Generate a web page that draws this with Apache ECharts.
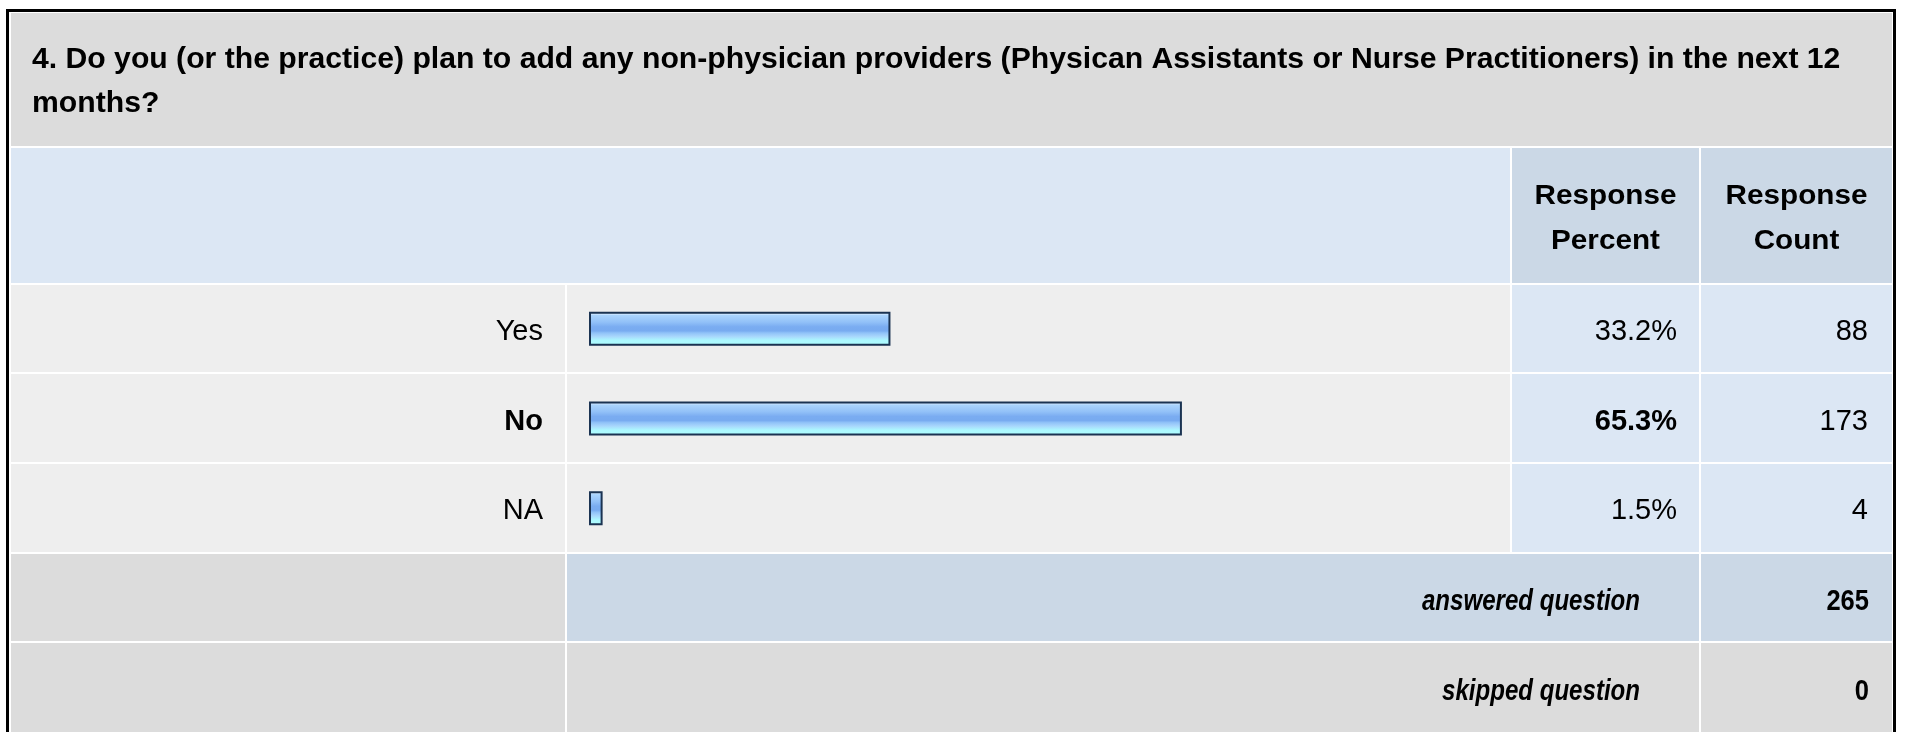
<!DOCTYPE html>
<html>
<head>
<meta charset="utf-8">
<script src="https://cdn.jsdelivr.net/npm/echarts@6/dist/echarts.min.js"></script>
<style>
html,body{margin:0;padding:0;background:#fff;}
#chart{width:1907px;height:732px;}
</style>
</head>
<body>
<div id="chart"></div>
<script>
// ---- data ----
const titleLines = ['4. Do you (or the practice) plan to add any non-physician providers (Physican Assistants or Nurse Practitioners) in the next 12', 'months?'];
const headerPercent = ['Response', 'Percent'];
const headerCount = ['Response', 'Count'];
const categories = ['Yes', 'No', 'NA'];
const percents = [33.2, 65.3, 1.5];
const counts = [88, 173, 4];
const answeredLabel = 'answered question';
const skippedLabel = 'skipped question';
const answered = 265;
const skipped = 0;

// ---- rendering ----
const FONT = '"Liberation Sans", Arial, Helvetica, sans-serif';
const maxIdx = percents.indexOf(Math.max(...percents));
const chart = echarts.init(document.getElementById('chart'), null, {renderer: 'canvas'});

// table layout
const colX = [11, 567, 1512, 1701, 1892];
const rowY = [13, 148, 285, 374, 464, 554, 643, 740];
const C = {
  title: '#dcdcdc', headLight: '#dce7f4', headDark: '#cbd8e6',
  row: '#eeeeee', val: '#dce7f4', grey: '#dcdcdc'
};
function rect(x1, y1, x2, y2, color) {
  return {type: 'rect', z: -10, silent: true,
    shape: {x: x1, y: y1, width: x2 - x1 - 2, height: y2 - y1 - 2},
    style: {fill: color}};
}
const g = [];
// frame
g.push({type: 'rect', z: -11, silent: true, shape: {x: 7.5, y: 10.5, width: 1887, height: 800},
  style: {fill: '#ffffff', stroke: '#000000', lineWidth: 3}});
// title
g.push(rect(colX[0], rowY[0], colX[4] + 2, rowY[1], C.title));
// header
g.push(rect(colX[0], rowY[1], colX[2], rowY[2], C.headLight));
g.push(rect(colX[2], rowY[1], colX[3], rowY[2], C.headDark));
g.push(rect(colX[3], rowY[1], colX[4] + 2, rowY[2], C.headDark));
// data rows
for (let r = 0; r < categories.length; r++) {
  const y1 = rowY[2 + r], y2 = rowY[3 + r];
  g.push(rect(colX[0], y1, colX[1], y2, C.row));
  g.push(rect(colX[1], y1, colX[2], y2, C.row));
  g.push(rect(colX[2], y1, colX[3], y2, C.val));
  g.push(rect(colX[3], y1, colX[4] + 2, y2, C.val));
}
// answered / skipped
g.push(rect(colX[0], rowY[5], colX[1], rowY[6], C.grey));
g.push(rect(colX[1], rowY[5], colX[3], rowY[6], C.headDark));
g.push(rect(colX[3], rowY[5], colX[4] + 2, rowY[6], C.headDark));
g.push(rect(colX[0], rowY[6], colX[1], rowY[7], C.grey));
g.push(rect(colX[1], rowY[6], colX[3], rowY[7], C.grey));
g.push(rect(colX[3], rowY[6], colX[4] + 2, rowY[7], C.grey));

// texts
g.push({type: 'text', x: 32, y: 38, scaleX: 1.04, z: 10, silent: true,
  style: {text: titleLines.join('\n'), font: 'bold 29px ' + FONT, fill: '#000',
    lineHeight: 44, textAlign: 'left', textVerticalAlign: 'top'}});
[[headerPercent, (colX[2] + colX[3] - 2) / 2], [headerCount, (colX[3] + colX[4]) / 2]].forEach(([lines, cx]) => {
  g.push({type: 'text', x: cx, y: 174, scaleX: 1.06, z: 10, silent: true,
    style: {text: lines.join('\n'), font: 'bold 28px ' + FONT, fill: '#000',
      lineHeight: 45, textAlign: 'center', textVerticalAlign: 'top'}});
});
const midA = (rowY[5] + rowY[6] - 2) / 2 + 4, midS = (rowY[6] + 732) / 2 + 4;
g.push({type: 'text', x: 1640, y: midA, scaleX: 0.83, z: 10, silent: true,
  style: {text: answeredLabel, font: 'italic bold 29px ' + FONT, fill: '#000', textAlign: 'right', textVerticalAlign: 'middle'}});
g.push({type: 'text', x: 1640, y: midS, scaleX: 0.83, z: 10, silent: true,
  style: {text: skippedLabel, font: 'italic bold 29px ' + FONT, fill: '#000', textAlign: 'right', textVerticalAlign: 'middle'}});
g.push({type: 'text', x: 1869, y: midA, scaleX: 0.88, z: 10, silent: true,
  style: {text: String(answered), font: 'bold 29px ' + FONT, fill: '#000', textAlign: 'right', textVerticalAlign: 'middle'}});
g.push({type: 'text', x: 1869, y: midS, scaleX: 0.88, z: 10, silent: true,
  style: {text: String(skipped), font: 'bold 29px ' + FONT, fill: '#000', textAlign: 'right', textVerticalAlign: 'middle'}});

const rich = {
  n: {fontFamily: FONT, fontSize: 29, color: '#000', fontWeight: 'normal'},
  b: {fontFamily: FONT, fontSize: 29, color: '#000', fontWeight: 'bold'}
};
function fmtFactory(boldMax) {
  return function (v, i) { return (boldMax && i === maxIdx) ? '{b|' + v + '}' : '{n|' + v + '}'; };
}
const barGradient = new echarts.graphic.LinearGradient(0, 0, 0, 1, [
  {offset: 0, color: '#d2e9ff'},
  {offset: 0.08, color: '#c4e1ff'},
  {offset: 0.1, color: '#aad4fd'},
  {offset: 0.2, color: '#9ecafa'},
  {offset: 0.3, color: '#92c1f8'},
  {offset: 0.44, color: '#7aacf1'},
  {offset: 0.56, color: '#78abf0'},
  {offset: 0.62, color: '#90c2f8'},
  {offset: 0.72, color: '#a8d6fc'},
  {offset: 0.84, color: '#acf8ff'},
  {offset: 1, color: '#b0ffff'}
]);

chart.setOption({
  backgroundColor: '#ffffff',
  animation: false,
  graphic: {elements: g},
  grid: {left: 589, right: 410, top: 284, height: 269, containLabel: false},
  xAxis: {type: 'value', min: 0, max: 100, show: false},
  yAxis: [
    {type: 'category', data: categories, inverse: true, z: 5,
      axisLine: {show: false}, axisTick: {show: false}, splitLine: {show: false},
      axisLabel: {margin: 46, padding: [6, 0, 0, 0], formatter: fmtFactory(true), rich: rich}},
    {type: 'category', position: 'right', inverse: true, z: 5,
      data: percents.map(p => p.toFixed(1) + '%'),
      axisLine: {show: false}, axisTick: {show: false}, splitLine: {show: false},
      axisLabel: {margin: 180, align: 'right', padding: [6, 0, 0, 0], formatter: fmtFactory(true), rich: rich}},
    {type: 'category', position: 'right', inverse: true, z: 5, offset: 0,
      data: counts.map(String),
      axisLine: {show: false}, axisTick: {show: false}, splitLine: {show: false},
      axisLabel: {margin: 371, align: 'right', padding: [6, 0, 0, 0], formatter: fmtFactory(false), rich: rich}}
  ],
  series: [{
    type: 'bar', data: percents, yAxisIndex: 0, barWidth: 34, z: 5,
    itemStyle: {color: barGradient, borderColor: '#1b3352', borderWidth: 2},
    silent: true
  }]
});
</script>
</body>
</html>
